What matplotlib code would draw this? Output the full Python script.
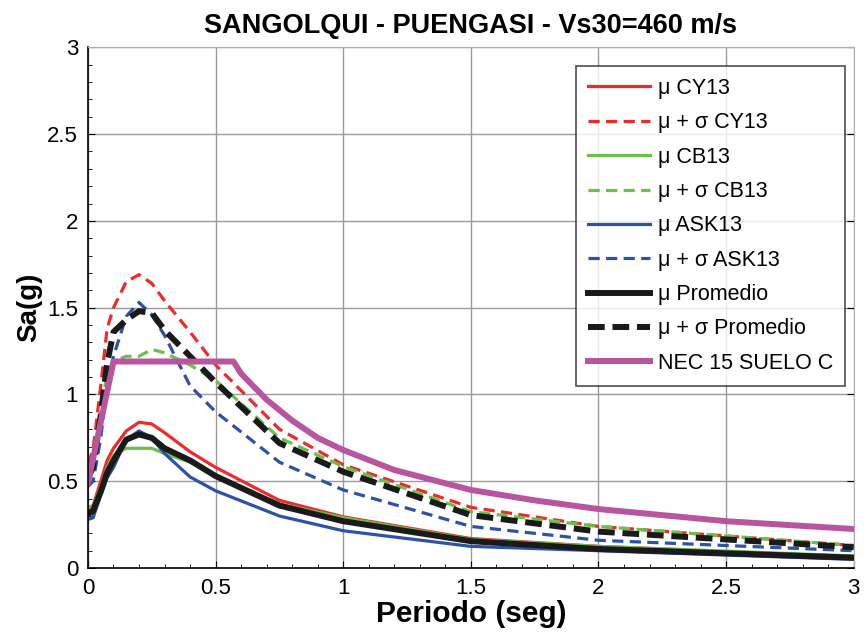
import matplotlib
matplotlib.use("Agg")
import matplotlib.pyplot as plt
from matplotlib.ticker import MultipleLocator

plt.rcParams['font.family'] = ['Liberation Sans', 'DejaVu Sans']

T = [0, 0.02, 0.05, 0.075, 0.1, 0.15, 0.2, 0.25, 0.3, 0.4, 0.5, 0.75, 1.0, 1.5, 2.0, 3.0]

cy13_mu = [0.33, 0.36, 0.50, 0.62, 0.69, 0.79, 0.84, 0.83, 0.78, 0.67, 0.58, 0.39, 0.295, 0.17, 0.125, 0.065]
cy13_ms = [0.60, 0.68, 1.05, 1.38, 1.50, 1.65, 1.69, 1.64, 1.54, 1.36, 1.17, 0.80, 0.595, 0.35, 0.24, 0.13]
cb13_mu = [0.35, 0.36, 0.47, 0.58, 0.65, 0.69, 0.69, 0.69, 0.66, 0.61, 0.53, 0.37, 0.29, 0.165, 0.125, 0.07]
cb13_ms = [0.55, 0.60, 0.90, 1.12, 1.19, 1.22, 1.22, 1.26, 1.24, 1.17, 1.08, 0.75, 0.585, 0.325, 0.24, 0.13]
ask13_mu = [0.28, 0.29, 0.42, 0.52, 0.58, 0.74, 0.79, 0.75, 0.66, 0.525, 0.445, 0.30, 0.215, 0.125, 0.10, 0.05]
ask13_ms = [0.47, 0.50, 0.75, 1.05, 1.22, 1.45, 1.53, 1.46, 1.34, 1.05, 0.90, 0.61, 0.45, 0.24, 0.16, 0.10]
prom_mu = [0.31, 0.33, 0.44, 0.55, 0.62, 0.74, 0.77, 0.75, 0.69, 0.62, 0.53, 0.36, 0.27, 0.155, 0.11, 0.06]
prom_ms = [0.52, 0.58, 0.88, 1.18, 1.36, 1.43, 1.48, 1.47, 1.37, 1.22, 1.07, 0.72, 0.555, 0.305, 0.21, 0.12]

T_nec = [0, 0.1, 0.57, 0.6, 0.7, 0.8, 0.9, 1.0, 1.2, 1.5, 1.75, 2.0, 2.5, 3.0]
nec15 = [0.49, 1.19, 1.19, 1.12, 0.97, 0.85, 0.75, 0.68, 0.565, 0.45, 0.39, 0.34, 0.27, 0.225]

RED = '#ee2a2a'
GREEN = '#6cc04a'
BLUE = '#2b52a8'
PINK = '#b9549f'

fig = plt.figure(figsize=(8.65, 6.39), dpi=100)
ax = fig.add_axes([0.1017, 0.111, 0.8853, 0.815])

ax.plot(T, cy13_mu, color=RED, lw=2.3, label='μ CY13')
ax.plot(T, cy13_ms, color=RED, lw=2.3, ls=(0, (3.5, 2)), label='μ + σ CY13')
ax.plot(T, cb13_mu, color=GREEN, lw=2.3, label='μ CB13')
ax.plot(T, cb13_ms, color=GREEN, lw=2.3, ls=(0, (3.5, 2)), label='μ + σ CB13')
ax.plot(T, ask13_mu, color=BLUE, lw=2.3, label='μ ASK13')
ax.plot(T, ask13_ms, color=BLUE, lw=2.3, ls=(0, (3.5, 2)), label='μ + σ ASK13')
ax.plot(T, prom_mu, color='#1a1a1a', lw=4.3, label='μ Promedio')
ax.plot(T, prom_ms, color='#1a1a1a', lw=4.3, ls=(0, (2.8, 1.3)), label='μ + σ Promedio')
ax.plot(T_nec, nec15, color=PINK, lw=4.3, label='NEC 15 SUELO C')

ax.set_xlim(0, 3)
ax.set_ylim(0, 3)
ax.xaxis.set_major_locator(MultipleLocator(0.5))
ax.yaxis.set_major_locator(MultipleLocator(0.5))
ax.xaxis.set_minor_locator(MultipleLocator(0.1))
ax.yaxis.set_minor_locator(MultipleLocator(0.1))
ax.xaxis.set_major_formatter(plt.FuncFormatter(lambda v, p: f'{v:g}'))
ax.yaxis.set_major_formatter(plt.FuncFormatter(lambda v, p: f'{v:g}'))
ax.tick_params(which='both', direction='in', labelsize=16, pad=7)
ax.tick_params(which='major', length=5, right=True, top=False)
ax.tick_params(which='minor', length=3)
ax.grid(True, which='major', color='#9a9a9a', lw=1)
ax.set_axisbelow(True)
for s in ['top', 'right']:
    ax.spines[s].set_color('#b0b0b0')
for s in ['left', 'bottom']:
    ax.spines[s].set_linewidth(1.2)

ax.set_title('SANGOLQUI - PUENGASI - Vs30=460 m/s', fontsize=19.5, fontweight='bold', pad=10)
ax.set_xlabel('Periodo (seg)', fontsize=21.5, fontweight='bold', labelpad=1)
ax.set_ylabel('Sa(g)', fontsize=20, fontweight='bold', labelpad=4)

leg = ax.legend(loc='upper right', bbox_to_anchor=(0.994, 0.972), fontsize=15.5, frameon=True,
                fancybox=False, edgecolor='#222222', handlelength=2.9, labelspacing=0.62,
                borderpad=0.55, handletextpad=0.35, borderaxespad=0.2)
leg.get_frame().set_linewidth(1.2)

fig.savefig('out.png', dpi=100)
